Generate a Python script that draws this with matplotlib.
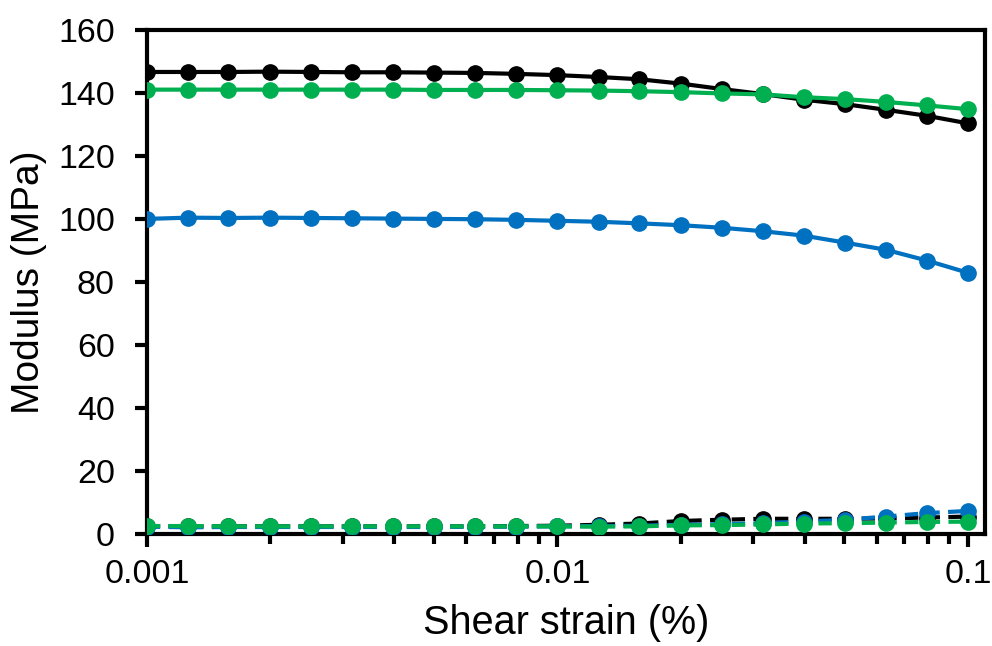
import numpy as np
import matplotlib.pyplot as plt
from matplotlib.ticker import FixedLocator, FixedFormatter, LogLocator, NullFormatter

plt.rcParams['font.family'] = ['Liberation Sans', 'DejaVu Sans']

strain = [0.001, 0.00126, 0.00158, 0.002, 0.00251, 0.00316, 0.00398, 0.00501,
          0.00631, 0.00794, 0.01, 0.0126, 0.0158, 0.02, 0.0251, 0.0316,
          0.0398, 0.0501, 0.0631, 0.0794, 0.1]

# storage modulus (solid)
g1_black = [146.6, 146.6, 146.6, 146.7, 146.6, 146.5, 146.5, 146.4, 146.3, 146.0,
            145.6, 145.0, 144.3, 142.9, 141.2, 139.6, 137.8, 136.4, 134.6, 132.7, 130.3]
g1_blue = [100.0, 100.4, 100.3, 100.4, 100.3, 100.2, 100.1, 100.0, 99.9, 99.7,
           99.4, 99.1, 98.6, 98.0, 97.2, 96.1, 94.7, 92.5, 90.2, 86.8, 82.9]
g1_green = [141.0, 141.0, 141.0, 141.0, 141.0, 141.0, 141.0, 140.9, 140.9, 140.9,
            140.8, 140.7, 140.5, 140.2, 139.8, 139.5, 138.6, 138.0, 137.1, 136.0, 134.8]

# loss modulus (dashed)
g2_black = [2.6, 2.5, 2.5, 2.5, 2.5, 2.5, 2.5, 2.5, 2.5, 2.6,
            2.7, 3.0, 3.4, 4.2, 4.6, 4.9, 4.9, 4.9, 5.0, 5.3, 5.6]
g2_blue = [2.4, 2.2, 2.3, 2.3, 2.3, 2.3, 2.3, 2.3, 2.4, 2.4,
           2.5, 2.6, 2.7, 3.0, 3.2, 3.5, 4.0, 4.6, 5.6, 6.7, 7.4]
g2_green = [2.6, 2.6, 2.5, 2.5, 2.5, 2.5, 2.5, 2.5, 2.5, 2.5,
            2.5, 2.4, 2.5, 2.8, 2.9, 3.1, 3.4, 3.5, 3.7, 3.9, 4.0]

black = '#000000'
blue = '#0070C0'
green = '#00B050'

fig = plt.figure(figsize=(9.92, 6.46), dpi=100)
ax = fig.add_axes([0.148, 0.173, 0.845, 0.781])

for g1, g2, c in [(g1_black, g2_black, black), (g1_blue, g2_blue, blue), (g1_green, g2_green, green)]:
    ax.plot(strain, g1, color=c, lw=3, marker='o', ms=11, zorder=3)
    ax.plot(strain, g2, color=c, lw=3, ls=(0, (3.2, 2.0)), marker='o', ms=11, zorder=3)

ax.set_xscale('log')
ax.set_xlim(0.001, 0.11)
ax.set_ylim(0, 160)
ax.set_yticks(np.arange(0, 161, 20))
ax.xaxis.set_major_locator(FixedLocator([0.001, 0.01, 0.1]))
ax.xaxis.set_major_formatter(FixedFormatter(['0.001', '0.01', '0.1']))
ax.xaxis.set_minor_locator(LogLocator(base=10, subs=np.arange(2, 10)))
ax.xaxis.set_minor_formatter(NullFormatter())

for s in ax.spines.values():
    s.set_linewidth(3)
ax.tick_params(axis='both', which='major', direction='out', length=9, width=3,
               labelsize=24.5)
ax.tick_params(axis='y', which='major', pad=14)
ax.tick_params(axis='x', which='major', pad=9)
ax.tick_params(axis='x', which='minor', direction='out', length=7, width=3)

ax.set_xlabel('Shear strain (%)', fontsize=28.5, labelpad=10)
ax.set_ylabel('Modulus (MPa)', fontsize=28, labelpad=8)

plt.savefig('out.png', dpi=100)
